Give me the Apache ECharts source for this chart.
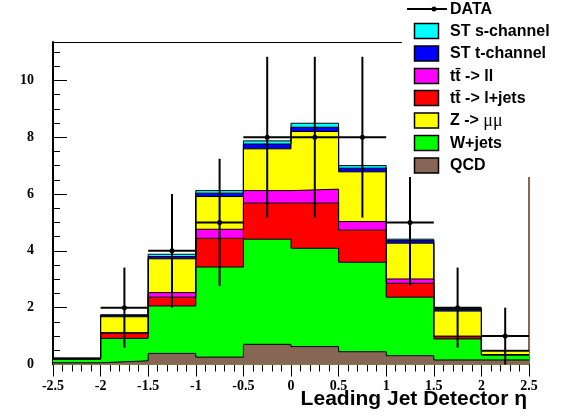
<!DOCTYPE html>
<html><head><meta charset="utf-8">
<script src="https://cdn.jsdelivr.net/npm/echarts@6/dist/echarts.min.js"></script>
<style>html,body{margin:0;padding:0;background:#fff}#c{width:573px;height:419px}</style>
</head><body><div id="c"></div>
<script>
// ---- data ----
const binEdges = [-2.5, -2, -1.5, -1, -0.5, 0, 0.5, 1, 1.5, 2, 2.5];
const qcd   = [0.06, 0.13, 0.39, 0.26, 0.71, 0.63, 0.45, 0.31, 0.16, 0.16];
const wjets = [0.13, 0.79, 1.67, 3.17, 3.70, 3.46, 3.15, 2.06, 0.74, 0.17];
const zmumu = [0.02, 0.56, 1.19, 1.15, 1.47, 2.03, 1.75, 1.26, 0.88, 0.12];
const ttLJ  = [0.00, 0.18, 0.31, 1.01, 1.27, 1.59, 1.13, 0.49, 0.08, 0.01];
const ttLL  = [0.00, 0.02, 0.16, 0.32, 0.44, 0.49, 0.30, 0.15, 0.02, 0.01];
const stT   = [0.01, 0.05, 0.08, 0.12, 0.17, 0.15, 0.13, 0.09, 0.06, 0.02];
const stS   = [0.01, 0.02, 0.08, 0.09, 0.11, 0.14, 0.09, 0.05, 0.04, 0.01];
const dataCounts = [0, 2, 4, 5, 8, 8, 8, 5, 2, 1];
const dataErrors = [0, 1.41, 2.0, 2.24, 2.83, 2.83, 2.83, 2.24, 1.41, 1.0];
const xTitle = 'Leading Jet Detector \u03b7';
const dataLabel = 'DATA';
const legendOrder = ['ST s-channel', 'ST t-channel', 'tt\u0304 -> ll', 'tt\u0304 -> l+jets', 'Z -> \u03bc\u03bc', 'W+jets', 'QCD'];

// stacking order bottom -> top (styles kept separate)
const components = [
  { name: 'QCD',          values: qcd,   color: '#876656' },
  { name: 'W+jets',       values: wjets, color: '#00ff00' },
  { name: 'tt\u0304 -> l+jets', values: ttLJ, color: '#ff0000' },
  { name: 'tt\u0304 -> ll',     values: ttLL, color: '#ff00ff' },
  { name: 'Z -> \u03bc\u03bc',  values: zmumu, color: '#ffff00', rich: true },
  { name: 'ST t-channel', values: stT,   color: '#0000ff' },
  { name: 'ST s-channel', values: stS,   color: '#00ffff' }
];

const nb = binEdges.length - 1;
const cums = [];
let run = new Array(nb).fill(0);
components.forEach(c => { run = run.map((v, i) => v + c.values[i]); cums.push(run.slice()); });

const series = [];
for (let k = components.length - 1; k >= 0; k--) {
  const cum = cums[k];
  series.push({
    type: 'line', name: components[k].name, step: 'end', symbol: 'none', silent: true,
    data: binEdges.map((e, i) => [e, cum[Math.min(i, nb - 1)]]),
    lineStyle: { color: '#000', width: 1 },
    areaStyle: { color: components[k].color, opacity: 1 },
    z: 2
  });
}

const dataPts = [];
for (let i = 0; i < nb; i++) {
  if (dataCounts[i] > 0) dataPts.push([(binEdges[i] + binEdges[i + 1]) / 2, dataCounts[i], dataErrors[i], binEdges[i], binEdges[i + 1]]);
}
series.push({
  type: 'custom', name: dataLabel, silent: true, z: 5,
  dimensions: ['x', 'y', 'err', 'xl', 'xr'], encode: { x: 0, y: 1 },
  data: dataPts,
  renderItem: function (params, api) {
    const x = api.value(0), y = api.value(1), e = api.value(2);
    const pc = api.coord([x, y]);
    const pl = api.coord([api.value(3), y]);
    const pr = api.coord([api.value(4), y]);
    const pt = api.coord([x, y + e]);
    const pb = api.coord([x, Math.max(0, y - e)]);
    const st = { stroke: '#000', lineWidth: 2 };
    return { type: 'group', children: [
      { type: 'line', shape: { x1: pl[0], y1: pl[1], x2: pr[0], y2: pr[1] }, style: st },
      { type: 'line', shape: { x1: pt[0], y1: pt[1], x2: pb[0], y2: pb[1] }, style: st },
      { type: 'circle', shape: { cx: pc[0], cy: pc[1], r: 2.5 }, style: { fill: '#000' } }
    ]};
  }
});

// ---- legend drawn as graphic (box layout of the reference) ----
const LFS = 16;
const legFont = { fontFamily: 'Liberation Sans', fontWeight: 'bold', fontSize: LFS, fill: '#000' };
const gEls = [
  { type: 'rect', z: 100, shape: { x: 402, y: 0, width: 171, height: 177 }, style: { fill: '#fff' } },
  { type: 'line', z: 101, shape: { x1: 407, y1: 9, x2: 447, y2: 9 }, style: { stroke: '#000', lineWidth: 2 } },
  { type: 'circle', z: 102, shape: { cx: 434, cy: 9, r: 2.5 }, style: { fill: '#000' } },
  { type: 'text', z: 101, x: 450, y: 9.5, style: Object.assign({ text: dataLabel, verticalAlign: 'middle' }, legFont) }
];
const rowY = [31, 53.5, 76, 98, 120.5, 143, 165.5];
legendOrder.forEach((nm, i) => {
  const c = components.find(cc => cc.name === nm);
  gEls.push({ type: 'rect', z: 101, shape: { x: 414.5, y: rowY[i] - 7.5, width: 24, height: 15 },
    style: { fill: c.color, stroke: '#000', lineWidth: 1.5 } });
  if (c.rich) {
    gEls.push({ type: 'text', z: 101, x: 450, y: rowY[i] + 0.5, style: {
      text: '{a|Z -> }{m|\u03bc\u03bc}', verticalAlign: 'middle',
      rich: { a: { fontFamily: 'Liberation Sans', fontWeight: 'bold', fontSize: LFS, color: '#000' },
              m: { fontFamily: 'Liberation Serif', fontWeight: 'normal', fontSize: 18, color: '#000' } } } });
  } else {
    gEls.push({ type: 'text', z: 101, x: 450, y: rowY[i] + 0.5, style: Object.assign({ text: c.name, verticalAlign: 'middle' }, legFont) });
  }
});

const tickFont = { fontFamily: 'Liberation Serif', fontWeight: 'bold', fontSize: 14, color: '#000' };
const YMAX = 11.35;
const chart = echarts.init(document.getElementById('c'), null, { renderer: 'canvas' });
chart.setOption({
  animation: false,
  backgroundColor: '#fff',
  title: { text: xTitle, right: 46, top: 389, padding: 0,
    textStyle: { fontFamily: 'Liberation Sans', fontWeight: 'bold', fontSize: 21, color: '#000' } },
  grid: { left: 53, right: 44, top: 42, bottom: 54.5, outerBoundsMode: 'none', containLabel: false },
  xAxis: [
    { type: 'value', position: 'bottom', min: -2.5, max: 2.5, interval: 0.5,
      axisLine: { show: true, onZero: false, lineStyle: { color: '#000', width: 1 } },
      axisTick: { show: true, inside: false, length: 12, lineStyle: { color: '#000', width: 1 } },
      minorTick: { show: true, splitNumber: 5, length: 7, lineStyle: { color: '#000', width: 1 } },
      axisLabel: Object.assign({ margin: 15 }, tickFont),
      splitLine: { show: false }, minorSplitLine: { show: false } },
    { type: 'value', position: 'top', min: -2.5, max: 2.5,
      axisLine: { show: true, onZero: false, lineStyle: { color: '#000', width: 1 } },
      axisTick: { show: false }, axisLabel: { show: false }, splitLine: { show: false } }
  ],
  yAxis: [
    { type: 'value', position: 'left', min: 0, max: YMAX, interval: 2,
      axisLine: { show: true, onZero: false, lineStyle: { color: '#000', width: 2 } },
      axisTick: { show: true, inside: true, length: 14, lineStyle: { color: '#000', width: 1 } },
      axisLabel: Object.assign({ margin: 19, showMaxLabel: false }, tickFont),
      splitLine: { show: false } },
    { type: 'value', position: 'left', min: 0, max: YMAX, interval: 0.5,
      axisLine: { show: false, onZero: false },
      axisTick: { show: true, inside: true, length: 7, lineStyle: { color: '#000', width: 1 } },
      axisLabel: { show: false }, splitLine: { show: false } },
    { type: 'value', position: 'right', min: 0, max: YMAX,
      axisLine: { show: true, onZero: false, lineStyle: { color: '#876656', width: 2 } },
      axisTick: { show: false }, axisLabel: { show: false }, splitLine: { show: false } }
  ],
  graphic: { elements: gEls },
  series: series
});
</script></body></html>
